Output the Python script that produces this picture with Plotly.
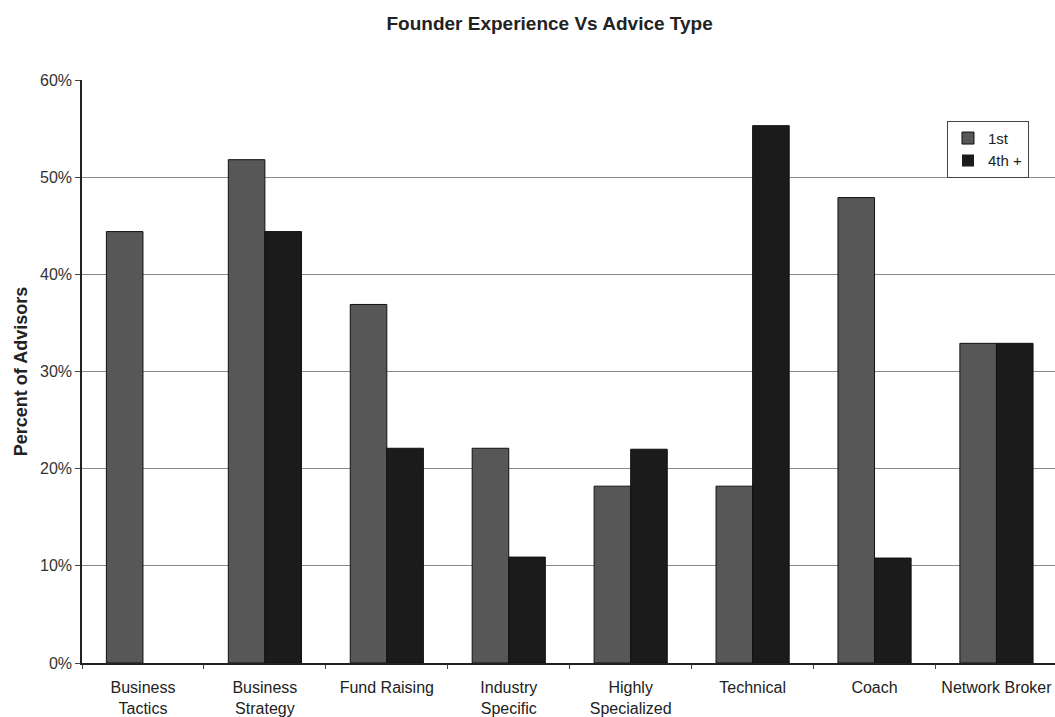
import plotly.graph_objects as go

# Advice categories and share of advisors by founder experience
categories = ["Business<br>Tactics", "Business<br>Strategy", "Fund Raising",
              "Industry<br>Specific", "Highly<br>Specialized", "Technical",
              "Coach", "Network Broker"]
first_time = [44.4, 51.8, 36.9, 22.1, 18.2, 18.2, 47.9, 32.9]
fourth_plus = [0.0, 44.4, 22.1, 10.9, 22.0, 55.3, 10.8, 32.9]
y_ticks = [0, 10, 20, 30, 40, 50, 60]
y_tick_labels = ["0%", "10%", "20%", "30%", "40%", "50%", "60%"]

font_family = "Liberation Sans, Arial, sans-serif"


def outline_widths(values):
    # empty bars get no outline so nothing is drawn on the baseline
    return [0 if v == 0 else 1 for v in values]


fig = go.Figure()
fig.add_trace(go.Bar(
    name="1st", x=categories, y=first_time,
    marker=dict(color="#575757",
                line=dict(color="#111111", width=outline_widths(first_time))),
))
fig.add_trace(go.Bar(
    name="4th +", x=categories, y=fourth_plus,
    marker=dict(color="#1b1b1b",
                line=dict(color="#111111", width=outline_widths(fourth_plus))),
))

fig.update_layout(
    width=1055, height=717,
    margin=dict(l=82, r=0, t=80, b=54),
    paper_bgcolor="white", plot_bgcolor="white",
    barmode="group", bargap=0.4, bargroupgap=0,
    font=dict(family=font_family, size=16, color="#333333"),
    title=dict(text="<b>Founder Experience Vs Advice Type</b>",
               x=0.521, xanchor="center", y=0.968, yanchor="middle",
               font=dict(family=font_family, size=19, color="#222222")),
    legend=dict(x=0.889, y=0.93, xanchor="left", yanchor="top",
                bgcolor="white", bordercolor="#444444", borderwidth=1,
                font=dict(size=15, color="#222222"),
                itemwidth=30, tracegroupgap=0),
    showlegend=True,
)

fig.update_xaxes(
    type="category", range=[-0.5, 7.48],
    showline=True, linecolor="#222222", linewidth=1.5,
    ticks="outside", tickson="boundaries", ticklen=4, tickcolor="#444444",
    ticklabelstandoff=9,
    showgrid=False, tickfont=dict(size=16, color="#222222"),
)
fig.update_yaxes(
    range=[0, 60], tickvals=y_ticks, ticktext=y_tick_labels,
    showline=True, linecolor="#222222", linewidth=1.5,
    ticks="outside", ticklen=5, tickcolor="#444444",
    showgrid=True, gridcolor="#8a8a8a", gridwidth=1,
    tickfont=dict(size=16, color="#333333"),
    title=dict(text="<b>Percent of Advisors</b>", standoff=8,
               font=dict(size=18, color="#222222")),
    zeroline=False,
)

fig.write_html("out.html")
